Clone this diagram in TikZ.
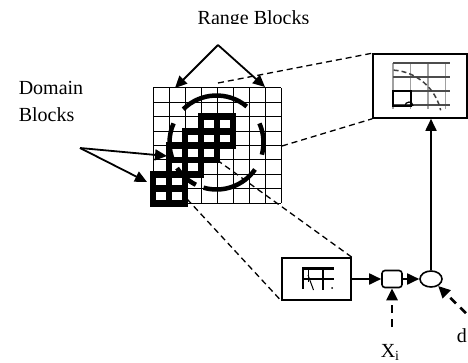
\documentclass[tikz,border=0pt]{standalone}
\usepackage{fontspec}
\setmainfont{Liberation Serif}
\usetikzlibrary{arrows.meta, positioning, shapes.geometric, calc}
\definecolor{cgrey}{HTML}{A0A0A0}
\tikzset{
  every picture/.style={line width=1.6pt},
  lbl/.style={font=\fontsize{20}{27}\selectfont, inner sep=0pt},
  arrow/.style={-{Triangle[length=12pt, width=11pt]}, line width=1.8pt},
  dasharrow/.style={arrow, line width=2.6pt, dash pattern=on 8pt off 6pt},
  guide/.style={line width=1.3pt, dash pattern=on 6pt off 4pt},
}

\begin{document}
\begin{tikzpicture}[x=1pt, y=-1pt,
    gridline/.style={line width=1pt},
    blockline/.style={line width=6.8pt},
    ring/.style={line width=4.5pt},
    zoomgrid/.style={line width=1.2pt, draw=cgrey},
    blockbox/.style={draw, rectangle, inner sep=0pt},
  ]
  \useasboundingbox (0,0) rectangle (468,363);

  % labels
  \begin{scope}
    \clip (0,0) rectangle (468,24);
    \node[lbl, anchor=base] (rangelbl) at (253.5,25) {Range Blocks};
  \end{scope}
  \node[lbl, align=left, anchor=north west] (domainlbl) at (18,80) {Domain\\Blocks};

  % range grid, 8x8 cells
  \foreach \i in {0,...,8} {
    \draw[gridline] (153+16*\i, 88) -- (153+16*\i, 203.2);
    \draw[gridline] (153, 88+14.4*\i) -- (281, 88+14.4*\i);
  }

  % domain blocks, 2x2 cells each
  \foreach \c/\r in {0/6, 1/4, 2/3, 3/2} {
    \draw[blockline] (153+16*\c, 88+14.4*\r) rectangle ++(32, 28.8);
    \draw[blockline] (169+16*\c, 88+14.4*\r) -- ++(0, 28.8);
    \draw[blockline] (153+16*\c, 102.4+14.4*\r) -- ++(32, 0);
  }

  % search circle
  \coordinate (ctr) at (216.5,142.5);
  \foreach \a/\b in {-50/-135, -156/-203, -213/-244, -254/-325, -345/-384}
    \draw[ring] ($(ctr)+(\a:47)$) arc[start angle=\a, end angle=\b, radius=47];

  % pointers to the blocks
  \coordinate (rangetip) at (218,45);
  \coordinate (rangeL) at (175,88);
  \coordinate (rangeR) at (265,87);
  \draw[arrow] (rangetip) -- (rangeL);
  \draw[arrow] (rangetip) -- (rangeR);
  \coordinate (domaintip) at (80,148);
  \coordinate (domainA) at (167,156);
  \coordinate (domainB) at (147,182);
  \draw[arrow] (domaintip) -- (domainA);
  \draw[arrow] (domaintip) -- (domainB);

  % magnified view
  \node[blockbox, minimum width=94pt, minimum height=64pt] (zoom) at (420,86) {};
  \foreach \x in {393, 410.5, 428, 445.5}
    \draw[zoomgrid] (\x, 63) -- (\x, 109);
  \foreach \y in {63, 77, 91, 105}
    \draw[zoomgrid, draw=black!70] (393, \y) -- (450, \y);
  \draw[line width=2pt] (393,91) rectangle (411,106);
  \draw[line width=1.2pt] (405,106) arc[start angle=180, end angle=360, radius=4];
  \draw[line width=1.5pt, draw=black!75, dash pattern=on 5pt off 3pt]
    ($(390,122)+(-86:52)$) arc[start angle=-86, end angle=-13, radius=52];

  \coordinate (zsrcA) at (218,83);
  \coordinate (zsrcB) at (282,146);
  \draw[guide] (zsrcA) -- (zoom.north west);
  \draw[guide] (zsrcB) -- (zoom.south west);

  % matching chain
  \node[blockbox, minimum width=69pt, minimum height=42pt] (match) at (316.5,279) {};
  \begin{scope}[shift={(match.center)}]
    \draw[line width=2.5pt] (-13.5,-12) -- (-13.5,10);
    \draw[line width=2.5pt] (6.5,-12) -- (6.5,11);
    \draw[line width=2.5pt] (-13.5,-10.5) -- (17.5,-10.5);
    \draw[line width=2.5pt] (-13.5,0) -- (17.5,0);
    \draw[line width=1pt] (-8.5,-10.5) -- (-8.5,3);
    \draw[line width=1pt] (-8.5,-4) -- (-3,11);
    \fill (15.5,9) circle (1pt);
  \end{scope}
  \node[blockbox, rounded corners=3pt, minimum width=20pt, minimum height=17pt] (xfm) at (392,279) {};
  \node[draw, ellipse, inner sep=0pt, minimum width=22pt, minimum height=16pt] (sum) at (431,279) {};
  \draw[arrow] (match) -- (xfm);
  \draw[arrow] (xfm) -- (sum);
  \draw[arrow] (sum.north) -- (sum.north |- zoom.south);

  \coordinate (msrcA) at (187,199);
  \coordinate (msrcB) at (217,160);
  \draw[guide] (msrcA) -- (match.south west);
  \draw[guide] (msrcB) -- (match.north east);

  % inputs
  \coordinate (xsrc) at (392,327);
  \draw[dasharrow] (xsrc) -- (xfm);
  \node[lbl, anchor=base west] (xlbl) at (380,357) {X\textsubscript{i}};
  \coordinate (dsrc) at (476,323);
  \draw[dasharrow] (dsrc) -- (sum);
  \node[lbl, anchor=base west] (dlbl) at (456,342) {d};
\end{tikzpicture}
\end{document}
